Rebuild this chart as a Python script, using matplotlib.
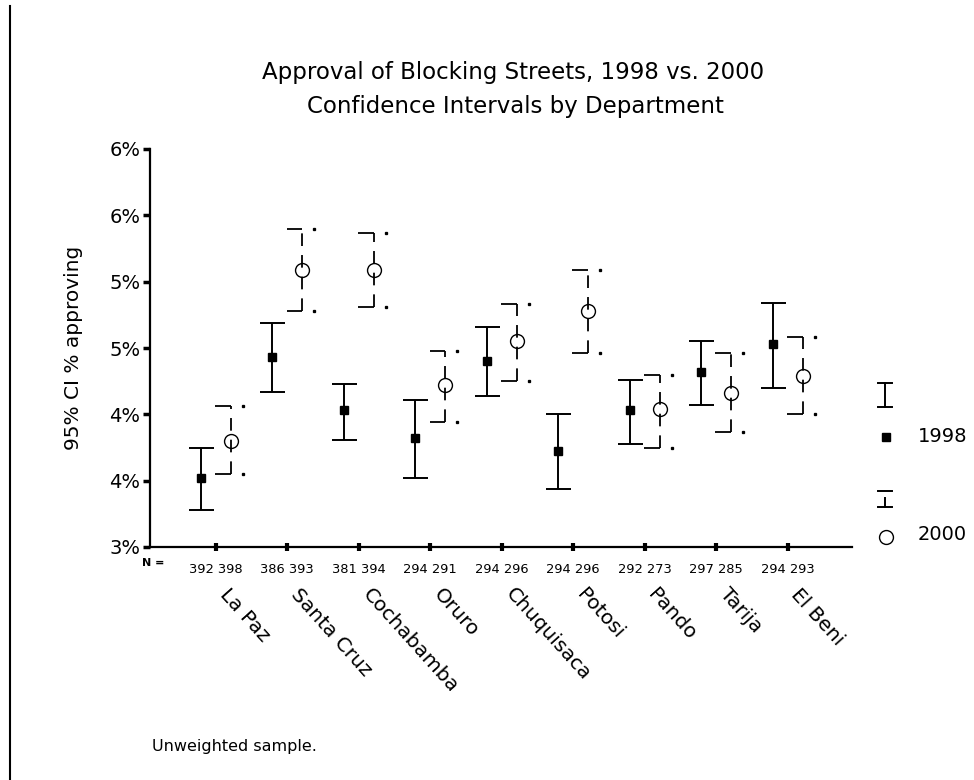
import matplotlib
matplotlib.use("Agg")
import matplotlib.pyplot as plt
import numpy as np

plt.rcParams["font.family"] = ["DejaVu Sans"]

categories = ["La Paz", "Santa Cruz", "Cochabamba", "Oruro", "Chuquisaca",
              "Potosi", "Pando", "Tarija", "El Beni"]
n_1998 = [392, 386, 381, 294, 294, 294, 292, 297, 294]
n_2000 = [398, 393, 394, 291, 296, 296, 273, 285, 293]

mean_1998 = [3.52, 4.43, 4.03, 3.82, 4.40, 3.72, 4.03, 4.32, 4.53]
lo_1998 = [3.28, 4.17, 3.81, 3.52, 4.14, 3.44, 3.78, 4.07, 4.20]
hi_1998 = [3.75, 4.69, 4.23, 4.11, 4.66, 4.00, 4.26, 4.55, 4.84]

mean_2000 = [3.80, 5.09, 5.09, 4.22, 4.55, 4.78, 4.04, 4.16, 4.29]
lo_2000 = [3.55, 4.78, 4.81, 3.94, 4.25, 4.46, 3.75, 3.87, 4.00]
hi_2000 = [4.06, 5.40, 5.37, 4.48, 4.83, 5.09, 4.30, 4.46, 4.58]

ytick_values = [3.0, 3.5, 4.0, 4.5, 5.0, 5.5, 6.0]
ytick_labels = ["3%", "4%", "4%", "5%", "5%", "6%", "6%"]

fig = plt.figure(figsize=(9.74, 7.8), dpi=100)
ax = fig.add_axes([150 / 974, 1 - 547 / 780, 702 / 974, 398 / 780])

x = np.arange(1, len(categories) + 1)
x98 = x - 0.21
x00 = x + 0.21

# 1998: solid bars with full caps, filled squares
ax.errorbar(x98, mean_1998,
            yerr=[np.array(mean_1998) - np.array(lo_1998),
                  np.array(hi_1998) - np.array(mean_1998)],
            fmt="none", ecolor="black", elinewidth=1.4, capsize=9, capthick=1.4)
ax.plot(x98, mean_1998, "s", color="black", markersize=6)

# 2000: dashed bars with half caps and a dot, open circles
ax.vlines(x00, lo_2000, hi_2000, colors="black", linewidth=1.3,
          linestyles=(0, (7, 5)))
for cap in (lo_2000, hi_2000):
    ax.hlines(cap, x00 - 0.22, x00, colors="black", linewidth=1.3)
    ax.plot(x00 + 0.17, cap, "s", color="black", markersize=1.4)
ax.plot(x00, mean_2000, "o", markerfacecolor="none", markeredgecolor="black",
        markersize=10, markeredgewidth=1.0)

ax.set_xlim(0.08, 9.9)
ax.set_ylim(3.0, 6.0)
ax.set_yticks(ytick_values)
ax.set_yticklabels(ytick_labels, fontsize=14)
ax.set_xticks(x)
ax.set_xticklabels([])
ax.tick_params(axis="y", direction="out", length=5, width=2.5, pad=2)
ax.tick_params(axis="x", direction="inout", length=6, width=3)
for side in ("top", "right"):
    ax.spines[side].set_visible(False)
for side in ("left", "bottom"):
    ax.spines[side].set_linewidth(1.6)
ax.set_ylabel("95% CI % approving", fontsize=14.5, labelpad=19)

# sample sizes under each department
ax.text(-0.012, -0.04, "N =", transform=ax.transAxes, fontsize=8,
        fontweight="bold", ha="left", va="center")
for xi, a, b in zip(x, n_1998, n_2000):
    ax.annotate(f"{a} {b}", (xi, 3.0), xytext=(0, -16),
                textcoords="offset points", fontsize=9.4,
                ha="center", va="center")

for xi, name in zip(x, categories):
    ax.annotate(name, (xi, 3.0), xytext=(10, -27), textcoords="offset points",
                fontsize=14.5, rotation=-48, rotation_mode="anchor",
                ha="left", va="top")

fig.text(513 / 974, 1 - 73 / 780, "Approval of Blocking Streets, 1998 vs. 2000",
         fontsize=16.5, ha="center", va="center")
fig.text(515 / 974, 1 - 107 / 780, "Confidence Intervals by Department",
         fontsize=16.5, ha="center", va="center")
fig.text(152 / 974, 1 - 747 / 780, "Unweighted sample.", fontsize=11.5,
         ha="left", va="center")

# hand-drawn legend and left border, in pixel coordinates
ov = fig.add_axes([0, 0, 1, 1], zorder=-1)
ov.set_xlim(0, 974)
ov.set_ylim(780, 0)
ov.axis("off")
ov.plot([10, 10], [6, 780], color="black", linewidth=1.5)

ov.plot([885, 885], [383, 407], color="black", linewidth=1.4)
ov.plot([878, 892], [383, 383], color="black", linewidth=1.4)
ov.plot([878, 892], [407, 407], color="black", linewidth=1.4)
ov.plot(886, 437, "s", color="black", markersize=6)
ov.text(918, 437, "1998", fontsize=14, va="center", ha="left")

ov.plot([885, 885], [498, 507], color="black", linewidth=1.4)
ov.plot([878, 892], [491, 491], color="black", linewidth=1.4)
ov.plot([878, 892], [507, 507], color="black", linewidth=1.4)
ov.plot(886, 537, "o", markerfacecolor="none", markeredgecolor="black",
        markersize=10, markeredgewidth=1.0)
ov.text(918, 535, "2000", fontsize=14, va="center", ha="left")

plt.savefig("out.png", dpi=100)
plt.close()
